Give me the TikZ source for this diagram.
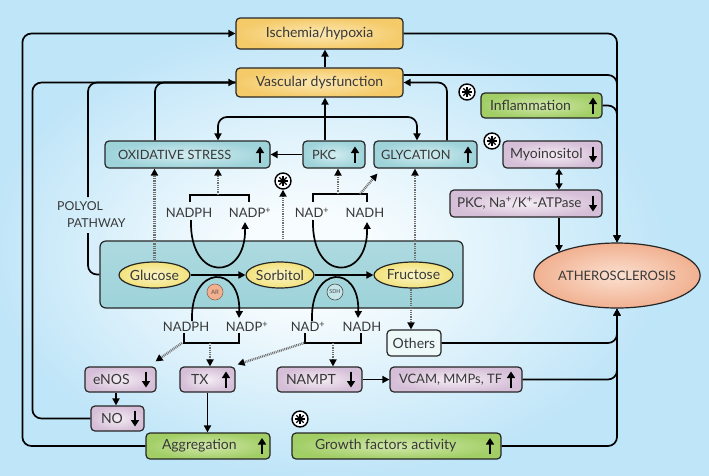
\documentclass[tikz,border=0pt]{standalone}
\usepackage{fontspec}
\setmainfont{Lato}
\usetikzlibrary{arrows.meta,calc,shapes.geometric}
\definecolor{bgblue}{HTML}{BFE5F8}
\definecolor{bgwhite}{HTML}{F7FCFE}
\definecolor{orA}{HTML}{F5CB6A}
\definecolor{orB}{HTML}{FCE8B4}
\definecolor{tlA}{HTML}{9ED3DA}
\definecolor{tlB}{HTML}{D2EDF0}
\definecolor{grA}{HTML}{A2CE66}
\definecolor{grB}{HTML}{D2E8AC}
\definecolor{puA}{HTML}{D5BED7}
\definecolor{puB}{HTML}{F5EDF5}
\definecolor{yeA}{HTML}{F2E27C}
\definecolor{yeB}{HTML}{FBF5C8}
\definecolor{peA}{HTML}{F1B191}
\definecolor{peB}{HTML}{FBE0D0}
\definecolor{txt}{HTML}{383838}
\definecolor{dotc}{HTML}{6E6E6E}
\pgfdeclareradialshading{bgsh}{\pgfpoint{-3.8bp}{-2.4bp}}{color(0bp)=(bgwhite); color(5bp)=(bgwhite); color(24bp)=(bgblue); color(50bp)=(bgblue)}
\newcommand\LB[2]{\makebox[#1pt][l]{#2}}
\newcommand\UpA[2]{\draw[line width=2.6pt,-{Triangle[length=6.5pt,width=8pt]}] (#1,#2+8) -- (#1,#2-8);}
\newcommand\DnA[2]{\draw[line width=2.6pt,-{Triangle[length=6.5pt,width=8pt]}] (#1,#2-8) -- (#1,#2+8);}
\begin{document}
\begin{tikzpicture}[x=1pt,y=-1pt,
  base/.style={draw=black!85, line width=1.2pt, rounded corners=4pt, inner ysep=0pt, text=txt, font=\fontsize{14}{16}\selectfont},
  orbox/.style={base, shade, inner color=orB, outer color=orA},
  tlbox/.style={base, shade, inner color=tlB, outer color=tlA, font=\fontsize{12.8}{14}\selectfont},
  grbox/.style={base, shade, inner color=grB, outer color=grA},
  pubox/.style={base, shade, inner color=puB, outer color=puA},
  ell/.style={ellipse, draw=black!85, line width=1.2pt, inner sep=0pt, shade, inner color=yeB, outer color=yeA, text=txt, font=\fontsize{14}{16}\selectfont},
  lbl/.style={inner sep=1pt, text=txt, font=\fontsize{13}{15}\selectfont},
  conn/.style={line width=1.7pt, -{Triangle[length=7pt,width=7pt]}, rounded corners=9pt},
  conn2/.style={line width=1.7pt, {Triangle[length=6pt,width=7pt]}-{Triangle[length=6pt,width=7pt]}},
  line/.style={line width=1.7pt, rounded corners=9pt},
  br/.style={line width=1.7pt},
  dots/.style={line width=2.4pt, draw=dotc, dash pattern=on 0.9pt off 0.9pt, -{Triangle[length=7pt,width=7pt,color=black]}},
  ast/.style={circle, draw=black, line width=1.4pt, fill=white, minimum size=16pt, inner sep=0pt,
    path picture={\foreach \a in {0,45,90,135}{\draw[line width=1.1pt] ([shift={(\a:5.2pt)}]path picture bounding box.center) -- ([shift={(\a+180:5.2pt)}]path picture bounding box.center);}}}
]
\useasboundingbox (0,0) rectangle (709,475);
\shade[shading=bgsh] (0,0) rectangle (709,475);

% polyol box
\node[draw=black!85, line width=1.2pt, rounded corners=6pt, minimum width=363pt, minimum height=67pt, shade, top color=tlA!85!white, bottom color=tlA] (polyol) at (281.5,274.5) {};

% boxes
\node[orbox, minimum width=167pt, minimum height=31pt] (isch) at (319.5,33.5) {Ischemia/hypoxia};
\node[orbox, minimum width=167pt, minimum height=29pt] (vasc) at (319.5,82.5) {Vascular dysfunction};
\node[tlbox, minimum height=27pt, inner xsep=13pt] (ox) at (187.5,154.5) {\LB{139}{OXIDATIVE STRESS}};
\node[tlbox, minimum height=27pt, inner xsep=9pt] (pkc) at (334,154.5) {\LB{44}{PKC}};
\node[tlbox, minimum height=27pt, inner xsep=7pt] (gly) at (425.5,154.5) {\LB{89}{GLYCATION}};
\node[grbox, minimum height=25pt, inner xsep=9pt] (infl) at (541.5,105.5) {\LB{103}{Inflammation}};
\node[pubox, minimum height=27pt, inner xsep=7pt] (myo) at (552.5,154.5) {\LB{85}{Myoinositol}};
\node[pubox, minimum height=27pt, inner xsep=7pt, font=\fontsize{13.5}{15}\selectfont] (pkcna) at (526,203.5) {\LB{138}{PKC, Na\textsuperscript{+}/K\textsuperscript{+}-ATPase}};
\node[base, fill=white!60!tlB, minimum width=54pt, minimum height=26pt, inner xsep=0pt] (others) at (414,343) {Others};
\node[pubox, minimum height=25pt, inner xsep=9pt, font=\fontsize{13}{15}\selectfont] (vcam) at (456,379.5) {\LB{114}{VCAM, MMPs, TF}};
\node[pubox, minimum height=25pt, inner xsep=9pt] (nampt) at (319.5,379.5) {\LB{67}{NAMPT}};
\node[pubox, minimum height=25pt, inner xsep=11pt] (tx) at (207.5,379.5) {\LB{33}{TX}};
\node[pubox, minimum height=25pt, inner xsep=8pt] (enos) at (120.5,379.5) {\LB{55}{eNOS}};
\node[pubox, minimum height=25pt, inner xsep=10pt] (no) at (117.5,418.5) {\LB{33}{NO}};
\node[grbox, minimum height=26pt, inner xsep=16pt] (aggr) at (208,446) {\LB{92}{Aggregation}};
\node[grbox, minimum height=26pt, inner xsep=23pt] (growth) at (396.5,446) {\LB{163}{Growth factors activity}};
\node[ell, inner color=peB, outer color=peA, minimum width=140pt, minimum height=65pt, font=\fontsize{13}{15}\selectfont] (ath) at (617,275.5) {ATHEROSCLEROSIS};
\node[ell, minimum width=71pt, minimum height=26pt] (glucose) at (154.5,275) {Glucose};
\node[ell, minimum width=66pt, minimum height=26pt] (sorbitol) at (280,275) {Sorbitol};
\node[ell, minimum width=79pt, minimum height=26pt] (fructose) at (413.5,275) {Fructose};

% enzymes
\node[circle, fill=peA, draw=peA!60!black, line width=0.6pt, minimum size=16pt, inner sep=0pt, font=\fontsize{6}{6}\selectfont, text=peA!45!black] (ar) at (215,292) {AR};
\node[circle, fill=tlA!60!white, draw=black!70, line width=0.6pt, minimum size=16pt, inner sep=0pt, font=\fontsize{5.5}{6}\selectfont, text=black!70] (sdh) at (335,292) {SDH};

% asterisks
\node[ast] (ast1) at (283,181) {};
\node[ast] (ast2) at (467,92) {};
\node[ast] (ast3) at (492,141) {};
\node[ast] (ast4) at (300,419) {};

% cofactor labels
\node[lbl] (uA) at (189,213) {NADPH};
\node[lbl] (uB) at (250,213) {NADP\textsuperscript{+}};
\node[lbl] (uC) at (312,213) {NAD\textsuperscript{+}};
\node[lbl] (uD) at (365,213) {NADH};
\node[lbl] (lA) at (186,327) {NADPH};
\node[lbl] (lB) at (247,327) {NADP\textsuperscript{+}};
\node[lbl] (lC) at (308,327) {NAD\textsuperscript{+}};
\node[lbl] (lD) at (362,327) {NADH};
\node[lbl, align=left, anchor=north west, font=\fontsize{12.3}{17}\selectfont] (pp) at (56,200) {POLYOL\\\hspace*{10pt}PATHWAY};

% arrows in boxes
\UpA{260}{154.5}
\UpA{355}{154.5}
\UpA{468}{154.5}
\UpA{593}{105.5}
\DnA{593}{154.5}
\DnA{593}{203.5}
\DnA{146}{379.5}
\DnA{135}{418.5}
\UpA{226}{379.5}
\DnA{351}{379.5}
\UpA{511}{379.5}
\UpA{262}{446}
\UpA{490}{446}

% long connectors
\draw[conn] (aggr.west) -- ++(-123,0) |- (isch.west);
\draw[conn] (no.west) -- ++(-58,0) |- (vasc.west);
\coordinate (ppb) at (88,233);
\coordinate (ppt) at (88,197);
\draw[line] (polyol.west) -| (ppb);
\draw[line] (ppt) |- (vasc.west);
\draw[line] ($(ox.north)+(-32.5,0)$) |- (vasc.west);
\draw[conn] ($(vasc.north)+(5.5,0)$) -- ($(isch.south)+(5.5,0)$);
\coordinate (pk) at ($(pkc.north)+(-9,0)$);
\draw[conn] (pk) -- (pk |- vasc.south);
\coordinate (j1) at (325,117);
\draw[conn] (j1) -| ($(ox.north)+(30.5,0)$);
\draw[conn] (j1) -| ($(gly.north)+(-8.5,0)$);
\draw[conn] (pkc.west) -- (ox.east);
\draw[conn] ($(gly.north)+(21.5,0)$) |- (vasc.east);
\draw[conn] (isch.east) -| (ath.north);
\draw[conn] ($(vasc.east)+(0,-7.5)$) -| (ath.north);
\draw[conn] (infl.east) -| (ath.north);
\draw[conn2] ($(myo.south)+(6.5,0)$) -- ($(pkcna.north)+(33,0)$);
\coordinate (pkn) at ($(pkcna.south)+(33,0)$);
\draw[conn] (pkn) -- (pkn |- ath.north west);
\draw[conn] (others.east) -| (ath.south);
\draw[conn] (vcam.east) -| (ath.south);
\draw[conn] (growth.east) -| (ath.south);
\draw[conn] (nampt.east) -- (vcam.west);
\coordinate (en) at ($(enos.south)+(-4.5,0)$);
\draw[conn] (en) -- (en |- no.north);
\draw[conn] (tx.south) -- (tx.south |- aggr.north);
\draw[conn] (glucose.east) -- (sorbitol.west);
\draw[conn] (sorbitol.east) -- (fructose.west);

% arches
\draw[conn] (192,321) .. controls (190,264) and (241,264) .. (239,318);
\draw[conn] (312,321) .. controls (310,264) and (360,264) .. (358,318);
\draw[conn] (191,220) .. controls (189,282) and (246,282) .. (245,222);
\draw[conn] (313,220) .. controls (311,282) and (368,282) .. (367,222);

% brackets
\draw[br] (190,202) -- (190,195) -- (249,195) -- (249,202);
\draw[br] (313,202) -- (313,194) -- (367,194) -- (367,202);
\draw[br] (184,333) -- (184,343) -- (239,343) -- (239,333);
\draw[br] (305,333) -- (305,343) -- (361,343) -- (361,333);

% dotted connectors
\draw[dots] (glucose.north) -- (glucose.north |- ox.south);
\coordinate (bu1) at (218,195);
\draw[dots] (bu1) -- (bu1 |- ox.south);
\draw[dots] (ast1.south |- polyol.north) -- (ast1.south);
\coordinate (bu2) at (338,194);
\draw[dots] (bu2) -- (bu2 |- pkc.south);
\coordinate (bu3) at (360,194);
\draw[dots] (bu3) -- ($(gly.south west)+(4,5)$);
\draw[dots] ($(fructose.north)+(1.5,0)$) -- ($(fructose.north |- gly.south)+(1.5,0)$);
\draw[dots] ($(fructose.south)+(-2.5,0)$) -- ($(fructose.south |- others.north)+(-2.5,0)$);
\coordinate (bl1) at (210,343);
\draw[dots] (bl1) -- (bl1 |- tx.north);
\coordinate (bl0) at (182,343);
\draw[dots] (bl0) -- ($(enos.north east)+(-1,-5)$);
\coordinate (bl2) at (333,343);
\draw[dots] (bl2) -- (bl2 |- nampt.north);
\coordinate (bl3) at (304,343);
\draw[dots] (bl3) -- ($(tx.north east)+(2,-2)$);
\end{tikzpicture}
\end{document}
